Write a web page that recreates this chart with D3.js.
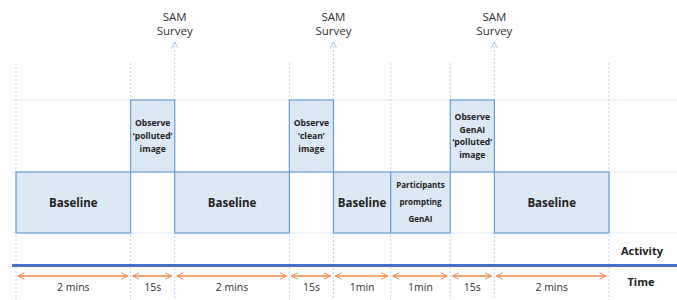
<!DOCTYPE html>
<html>
<head>
<meta charset="utf-8">
<script src="https://cdn.jsdelivr.net/npm/d3@7"></script>
<style>
  body { margin: 0; background: #fff; }
  svg { font-family: "Open Sans", "Liberation Sans", sans-serif; }
</style>
</head>
<body>
<svg id="chart" width="677" height="300"></svg>
<script>
// activity phases, in order
var activities = [
    ["Baseline"],
    ["Observe", "\u2018polluted\u2019", "image"],
    ["Baseline"],
    ["Observe", "\u2018clean\u2019", "image"],
    ["Baseline"],
    ["Participants", "prompting", "GenAI"],
    ["Observe", "GenAI", "\u2018polluted\u2019", "image"],
    ["Baseline"]
];
var durations = ["2 mins", "15s", "2 mins", "15s", "1min", "1min", "15s", "2 mins"];
// schematic width of each phase (not to scale in the original)
var weights = [2.6, 1, 2.6, 1, 1.3, 1.35, 1, 2.6];
// 0 = lower activity row, 1 = upper (observe) row
var rows = [0, 1, 0, 1, 0, 0, 1, 0];
// SAM survey follows each observe phase
var survey = [false, true, false, true, false, false, true, false];

var svg = d3.select("#chart");

var starts = [];
var acc = 0;
weights.forEach(function(w) { starts.push(acc); acc += w; });
var phases = activities.map(function(a, i) {
    return { lines: a, dur: durations[i], start: starts[i], end: starts[i] + weights[i], row: rows[i], survey: survey[i] };
});

var x = d3.scaleLinear().domain([0, acc]).range([16, 609]);
// row levels: bottom of lower row, split, top of upper row
var y = d3.scaleLinear().domain([0, 1, 2]).range([233, 172, 100]);

var blue = "#6a9fd8", fill = "#dde8f5", orange = "#f0894a", guide = "#a9c8ea";

var defs = svg.append("defs");
defs.append("marker").attr("id", "arrow").attr("viewBox", "0 0 10 10")
    .attr("refX", 9).attr("refY", 5).attr("markerWidth", 8).attr("markerHeight", 8)
    .attr("orient", "auto-start-reverse").attr("markerUnits", "userSpaceOnUse")
    .append("path").attr("d", "M1,1 L9,5 L1,9").attr("fill", "none").attr("stroke", orange).attr("stroke-width", 1.2);
defs.append("marker").attr("id", "up").attr("viewBox", "0 0 10 10")
    .attr("refX", 9).attr("refY", 5).attr("markerWidth", 8).attr("markerHeight", 8)
    .attr("orient", "auto").attr("markerUnits", "userSpaceOnUse")
    .append("path").attr("d", "M1,1 L9,5 L1,9").attr("fill", "none").attr("stroke", guide).attr("stroke-width", 1.2);

// faint horizontal row lines
svg.selectAll("line.row")
    .data([2, 1, 0])
    .enter().append("line").attr("class", "row")
    .attr("x1", 12).attr("x2", 677)
    .attr("y1", d => y(d)).attr("y2", d => y(d))
    .attr("stroke", "#eef2f7").attr("stroke-width", 1.5);

// boundaries
var bounds = phases.map(d => d.start).concat([acc]);
svg.selectAll("line.bound")
    .data(bounds)
    .enter().append("line").attr("class", "bound")
    .attr("x1", d => x(d)).attr("x2", d => x(d))
    .attr("y1", function(d, i) { return (i > 0 && phases[i - 1].survey) ? y(2) : 63; })
    .attr("y2", 300)
    .attr("stroke", guide).attr("stroke-width", 0.8).attr("stroke-dasharray", "2,2");

// survey arrows
var surveys = phases.filter(d => d.survey);
svg.selectAll("line.survey")
    .data(surveys)
    .enter().append("line").attr("class", "survey")
    .attr("x1", d => x(d.end)).attr("x2", d => x(d.end))
    .attr("y1", y(2)).attr("y2", 42)
    .attr("stroke", guide).attr("stroke-width", 0.8).attr("stroke-dasharray", "2,2")
    .attr("marker-end", "url(#up)");

var st = svg.selectAll("text.survey")
    .data(surveys)
    .enter().append("text").attr("class", "survey")
    .attr("x", d => x(d.end)).attr("y", 21)
    .attr("text-anchor", "middle").attr("font-size", 11.5).attr("fill", "#333");
st.append("tspan").attr("x", d => x(d.end)).text("SAM");
st.append("tspan").attr("x", d => x(d.end)).attr("dy", 14).text("Survey");

// activity boxes
svg.selectAll("rect.phase")
    .data(phases)
    .enter().append("rect").attr("class", "phase")
    .attr("x", d => x(d.start)).attr("width", d => x(d.end) - x(d.start))
    .attr("y", d => y(d.row + 1)).attr("height", d => y(d.row) - y(d.row + 1))
    .attr("fill", fill).attr("stroke", blue).attr("stroke-width", 1.2);

svg.selectAll("g.label")
    .data(phases)
    .enter().append("g").attr("class", "label")
    .each(function(d) {
        var g = d3.select(this);
        var cx = (x(d.start) + x(d.end)) / 2;
        var cy = (y(d.row) + y(d.row + 1)) / 2;
        var big = d.lines.length == 1;
        var size = big ? 11.5 : (d.lines[0] == "Participants" ? 8 : 8.6);
        var gap = d.lines[0] == "Participants" ? 17 : 12.7;
        var top = cy - (d.lines.length - 1) * gap / 2;
        d.lines.forEach(function(t, k) {
            g.append("text")
                .attr("x", cx).attr("y", top + k * gap)
                .attr("dy", "0.35em")
                .attr("text-anchor", "middle")
                .attr("font-size", size).attr("font-weight", "bold").attr("fill", "#222")
                .text(t);
        });
    });

// time axis
svg.append("line")
    .attr("x1", 12).attr("x2", 677).attr("y1", 265.5).attr("y2", 265.5)
    .attr("stroke", "#4472c4").attr("stroke-width", 3);

svg.selectAll("line.dur")
    .data(phases)
    .enter().append("line").attr("class", "dur")
    .attr("x1", d => x(d.start) + 2).attr("x2", d => x(d.end) - 3)
    .attr("y1", 276).attr("y2", 276)
    .attr("stroke", orange).attr("stroke-width", 1.3)
    .attr("marker-start", "url(#arrow)").attr("marker-end", "url(#arrow)");

svg.selectAll("text.dur")
    .data(phases)
    .enter().append("text").attr("class", "dur")
    .attr("x", d => (x(d.start) + x(d.end)) / 2).attr("y", 291)
    .attr("text-anchor", "middle").attr("font-size", 10.5).attr("fill", "#333")
    .text(d => d.dur);

svg.append("text").attr("x", 642).attr("y", 255).attr("text-anchor", "middle")
    .attr("font-size", 11).attr("font-weight", "bold").attr("fill", "#222").text("Activity");
svg.append("text").attr("x", 641).attr("y", 286).attr("text-anchor", "middle")
    .attr("font-size", 11).attr("font-weight", "bold").attr("fill", "#222").text("Time");
</script>
</body>
</html>
